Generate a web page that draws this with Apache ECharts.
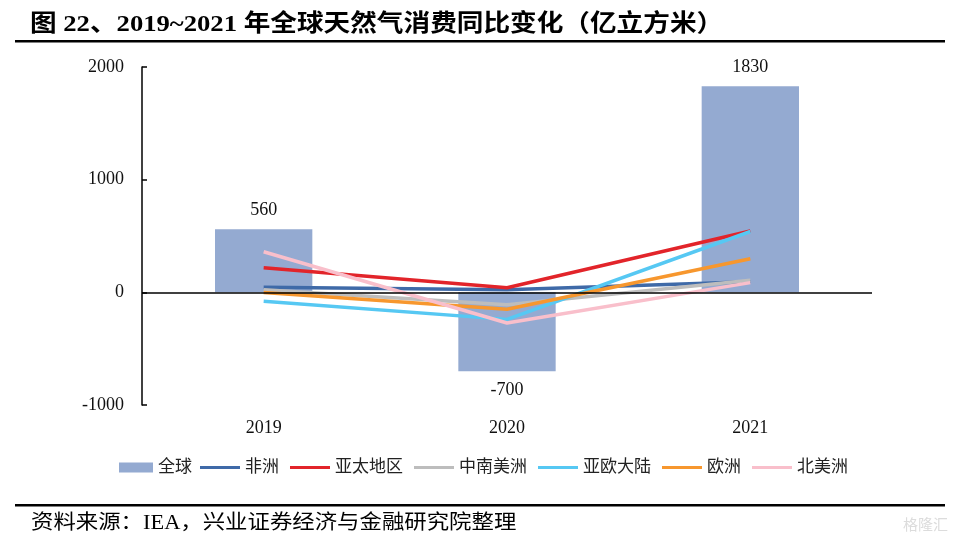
<!DOCTYPE html>
<html>
<head>
<meta charset="utf-8">
<script src="https://cdn.jsdelivr.net/npm/echarts@6/dist/echarts.min.js"></script>
<style>
html,body{margin:0;padding:0;background:#fff;}
#chart{width:958px;height:548px;}
</style>
</head>
<body>
<div id="chart"></div>
<script>
const categories = ['2019', '2020', '2021'];
const yTicks = [-1000, 0, 1000, 2000];
const globalVals = [560, -700, 1830];
const africa = [45, 22, 95];
const asiaPacific = [218, 40, 545];
const southCentralAmerica = [22, -110, 108];
const eurasia = [-80, -240, 540];
const europe = [-2, -150, 298];
const northAmerica = [360, -272, 86];

const serif = '"Liberation Serif", "Noto Sans CJK SC", serif';
const cjk = '"Liberation Serif", "Noto Sans CJK SC", sans-serif';

const lineDefs = [
  ['非洲', africa, '#3F6AA8'],
  ['亚太地区', asiaPacific, '#E2242A'],
  ['中南美洲', southCentralAmerica, '#BDBDBD'],
  ['亚欧大陆', eurasia, '#56C8F3'],
  ['欧洲', europe, '#F7972E'],
  ['北美洲', northAmerica, '#F9BFCB']
];

const chart = echarts.init(document.getElementById('chart'));
const series = [{
  name: '全球',
  type: 'bar',
  data: globalVals.map(v => ({ value: v, label: { position: v < 0 ? 'bottom' : 'top' } })),
  barWidth: '40%',
  itemStyle: { color: '#94AAD1' },
  label: {
    show: true,
    distance: 10,
    color: '#111',
    fontFamily: serif,
    fontSize: 18
  },
  markLine: {
    silent: true,
    symbol: 'none',
    label: { show: false },
    lineStyle: { color: '#000', width: 1.5, type: 'solid' },
    data: [{ yAxis: 0 }]
  },
  z: 1
}];
lineDefs.forEach(([name, data, color]) => {
  series.push({
    name: name,
    type: 'line',
    data: data,
    symbol: 'none',
    lineStyle: { color: color, width: 3.5 },
    itemStyle: { color: color },
    z: 3
  });
});

const legendText = { fontFamily: cjk, fontSize: 17, color: '#222' };

chart.setOption({
  animation: false,
  backgroundColor: '#fff',
  graphic: [
    { type: 'text', x: 30, y: 13, scaleX: 1.11, style: { text: '图 22、2019~2021 年全球天然气消费同比变化（亿立方米）', font: 'bold 24px "Liberation Serif", "Noto Sans CJK SC"', fill: '#000' } },
    { type: 'rect', shape: { x: 15, y: 40, width: 930, height: 2.5 }, style: { fill: '#000' } },
    { type: 'rect', shape: { x: 15, y: 504, width: 930, height: 2.5 }, style: { fill: '#000' } },
    { type: 'text', x: 31, y: 514, scaleX: 1.12, style: { text: '资料来源：IEA，兴业证券经济与金融研究院整理', font: '20px "Liberation Serif", "Noto Sans CJK SC"', fill: '#000' } },
    { type: 'text', x: 903, y: 517, style: { text: '格隆汇', font: '15px "Noto Sans CJK SC"', fill: '#dcdcdc' } }
  ],
  legend: [{
    top: 454,
    left: 114,
    itemWidth: 34,
    itemHeight: 10,
    textStyle: legendText,
    data: [{ name: '全球', icon: 'rect' }]
  }, {
    top: 454,
    left: 195,
    itemWidth: 40,
    itemHeight: 3,
    itemGap: 11,
    textStyle: legendText,
    data: ['非洲', '亚太地区', '中南美洲', '亚欧大陆', '欧洲', '北美洲'].map(n => ({ name: n, icon: 'rect' }))
  }],
  grid: { left: 142, right: 86, top: 67, bottom: 143 },
  xAxis: {
    type: 'category',
    data: categories,
    axisLine: { show: false, onZero: false },
    axisTick: { show: false },
    axisLabel: { color: '#111', fontFamily: serif, fontSize: 18, margin: 14 }
  },
  yAxis: {
    type: 'value',
    min: yTicks[0],
    max: yTicks[yTicks.length - 1],
    interval: 1000,
    splitLine: { show: false },
    axisLine: { show: true, lineStyle: { color: '#000', width: 1.5 } },
    axisTick: { show: true, inside: true, length: 5, lineStyle: { color: '#000', width: 1.5 } },
    axisLabel: { color: '#111', fontFamily: serif, fontSize: 18, margin: 18, formatter: v => String(v) }
  },
  series: series
});
</script>
</body>
</html>
